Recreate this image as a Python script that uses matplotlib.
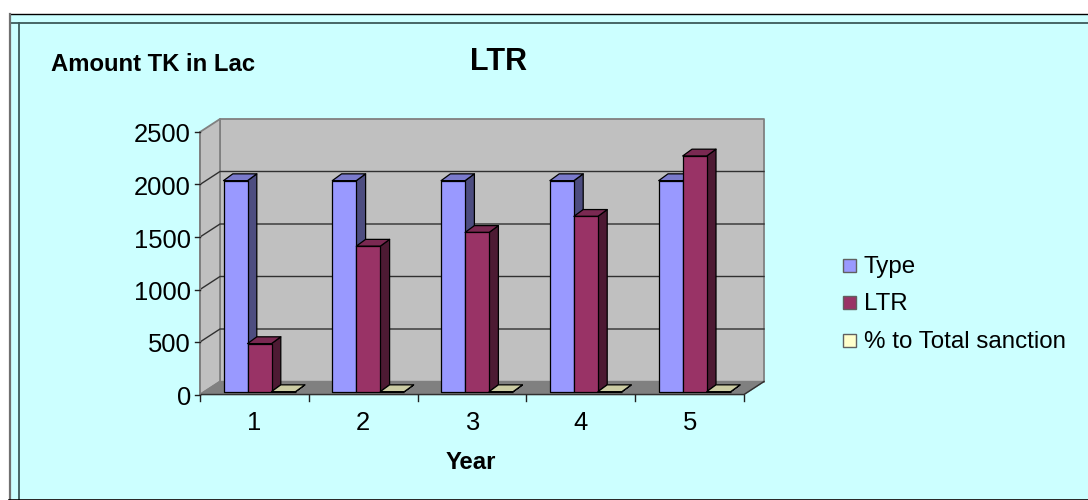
import matplotlib
matplotlib.use("Agg")
import matplotlib.pyplot as plt
from matplotlib.patches import Polygon, Rectangle

plt.rcParams['font.family'] = ['Liberation Sans', 'DejaVu Sans']

# Chart data
years = [1, 2, 3, 4, 5]
type_values = [2010, 2010, 2010, 2010, 2010]
ltr_values = [458, 1386, 1517, 1670, 2245]
pct_values = [0.5, 0.5, 0.5, 0.5, 0.5]
y_ticks = [0, 500, 1000, 1500, 2000, 2500]
series_names = ['Type', 'LTR', '% to Total sanction']

W, H = 1088, 500
BG = '#ccffff'

fig = plt.figure(figsize=(W / 100, H / 100), dpi=100, facecolor='white')

# Overlay in pixel coordinates for the chart frame and outside labels
page = fig.add_axes([0, 0, 1, 1], zorder=0)
page.set_xlim(0, W)
page.set_ylim(H, 0)
page.axis('off')
page.add_patch(Rectangle((9.5, 14), W, H - 15, fc=BG, ec='none'))
page.plot([9.5, W], [14, 14], color='black', lw=1)
page.plot([9.5, W], [23, 23], color='#3c5a5a', lw=1.3)
page.plot([9.5, 9.5], [14, 499.5], color='#707070', lw=1.6)
page.plot([18.5, 18.5], [23, 499.5], color='#3c5a5a', lw=1.3)
page.plot([9, W], [499.5, 499.5], color='black', lw=1.2)

# Front plane of the pseudo-3D plot: one unit per category, value on y
left, right, bottom, top = 200, 744, 394.5, 132
ax = fig.add_axes([left / W, 1 - bottom / H, (right - left) / W, (bottom - top) / H],
                  zorder=1)
ax.set_xlim(0.5, 5.5)
ax.set_ylim(0, 2500)
ax.axis('off')

CAT_PX = (right - left) / 5
VAL_PX = (bottom - top) / 2500
WALL_DX = 20 / CAT_PX
WALL_DY = 13 / VAL_PX
BAR_DX = 9.3 / CAT_PX
BAR_DY = 6.8 / VAL_PX
BAR_W = 24 / CAT_PX
GROUP_OFFSET = 23.5 / CAT_PX
FRONT_Y = 2.8 / VAL_PX


def poly(points, fc, ec='#000000', lw=0.9, z=2):
    ax.add_patch(Polygon(points, closed=True, fc=fc, ec=ec, lw=lw, zorder=z,
                         clip_on=False, joinstyle='round'))


# Walls and floor
x0, x1 = 0.5, 5.5
poly([(x0 + WALL_DX, WALL_DY), (x1 + WALL_DX, WALL_DY),
      (x1 + WALL_DX, 2500 + WALL_DY), (x0 + WALL_DX, 2500 + WALL_DY)],
     '#c0c0c0', ec='#808080', lw=1.3, z=1)
poly([(x0, 0), (x0 + WALL_DX, WALL_DY), (x0 + WALL_DX, 2500 + WALL_DY), (x0, 2500)],
     '#c0c0c0', ec='#808080', lw=1.3, z=1)
poly([(x0, 0), (x1, 0), (x1 + WALL_DX, WALL_DY), (x0 + WALL_DX, WALL_DY)],
     '#808080', ec='#808080', lw=1, z=1)

# Gridlines run along the side wall and across the back wall
for v in y_ticks[1:-1]:
    ax.plot([x0, x0 + WALL_DX, x1 + WALL_DX],
            [v, v + WALL_DY, v + WALL_DY],
            color='#303030', lw=1, zorder=1.5, clip_on=False)
ax.plot([x0, x1, x1 + WALL_DX], [0, 0, WALL_DY], color='#303030', lw=1,
        zorder=1.5, clip_on=False)
ax.plot([x0, x0], [0, 2500], color='#808080', lw=1.3, zorder=1.5, clip_on=False)

# Axis ticks and labels
for v in y_ticks:
    ax.plot([x0 - 5 / CAT_PX, x0], [v, v], color='#202020', lw=1, clip_on=False, zorder=1.5)
    ax.annotate(str(v), (x0, v), xytext=(-9, -3.5), textcoords='offset pixels',
                ha='right', va='center', fontsize=18.4, color='black')
for i in range(6):
    ax.plot([x0 + i, x0 + i], [0, -6 / VAL_PX], color='#202020', lw=1,
            clip_on=False, zorder=1.5)
for y in years:
    ax.annotate(str(y), (y, 0), xytext=(0, -35), textcoords='offset pixels',
                ha='center', va='baseline', fontsize=18.4, color='black')

# Bars: front face, top face and side face for each series in each group
styles = [('#9999ff', '#7a7acc', '#4d4d80'),
          ('#993366', '#7a2952', '#4d1a33'),
          ('#ffffcc', '#ccccA3', '#808066')]
for g, y in enumerate(years):
    start = y - 0.5 + GROUP_OFFSET
    for s, values in enumerate([type_values, ltr_values, pct_values]):
        v = values[g]
        a = start + s * BAR_W
        b = a + BAR_W
        base = FRONT_Y
        z = 3 + g + s * 0.1
        front, top_c, side = styles[s]
        poly([(b, base), (b + BAR_DX, base + BAR_DY),
              (b + BAR_DX, base + v + BAR_DY), (b, base + v)], side, z=z)
        poly([(a, base + v), (b, base + v),
              (b + BAR_DX, base + v + BAR_DY), (a + BAR_DX, base + v + BAR_DY)], top_c, z=z)
        poly([(a, base), (b, base), (b, base + v), (a, base + v)], front, z=z)

# Titles and axis caption
page.text(498, 62, 'LTR', fontsize=22, fontweight='bold', ha='center', va='center')
page.text(153.5, 64.5, 'Amount TK in Lac', fontsize=17.2, fontweight='bold', ha='center', va='center')
page.text(471, 462.5, 'Year', fontsize=17.2, fontweight='bold', ha='center', va='center')

# Legend
legend_rows = [(265, styles[0][0]), (302.5, styles[1][0]), (340, styles[2][0])]
for name, (yy, col) in zip(series_names, legend_rows):
    page.add_patch(Rectangle((843, yy - 6.5), 13, 13, fc=col, ec='#606060', lw=1))
    page.text(864, yy + 2, name, fontsize=17.4, ha='left', va='center')

fig.savefig('out.png', dpi=100, facecolor='white')
